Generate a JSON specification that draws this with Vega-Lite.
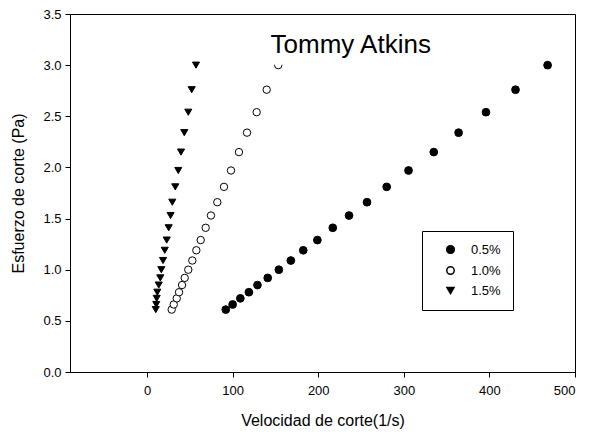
{
  "$schema": "https://vega.github.io/schema/vega-lite/v6.json",
  "width": 505,
  "height": 358,
  "autosize": {"type": "none"},
  "padding": {"left": 70, "top": 14, "right": 29, "bottom": 64},
  "background": "white",
  "config": {
    "font": "Liberation Sans",
    "view": {"stroke": "black", "strokeWidth": 1},
    "axis": {
      "domainColor": "black",
      "tickColor": "black",
      "tickSize": 5,
      "grid": false,
      "labelColor": "black",
      "titleColor": "black",
      "labelFontSize": 13,
      "titleFontSize": 16,
      "labelFont": "Liberation Sans",
      "titleFont": "Liberation Sans",
      "titleFontWeight": "normal"
    },
    "legend": {
      "title": null,
      "orient": "none",
      "legendX": 352,
      "legendY": 217,
      "padding": 12,
      "symbolOffset": 10,
      "strokeColor": "black",
      "fillColor": "white",
      "labelFontSize": 13,
      "labelFont": "Liberation Sans",
      "labelColor": "black",
      "rowPadding": 6,
      "labelOffset": 14
    }
  },
  "datasets": {
    "corte": [
      {"velocidad": 92, "esfuerzo": 0.61, "conc": "0.5%"},
      {"velocidad": 100, "esfuerzo": 0.66, "conc": "0.5%"},
      {"velocidad": 109, "esfuerzo": 0.72, "conc": "0.5%"},
      {"velocidad": 119, "esfuerzo": 0.78, "conc": "0.5%"},
      {"velocidad": 129, "esfuerzo": 0.85, "conc": "0.5%"},
      {"velocidad": 141, "esfuerzo": 0.92, "conc": "0.5%"},
      {"velocidad": 154, "esfuerzo": 1.0, "conc": "0.5%"},
      {"velocidad": 168, "esfuerzo": 1.09, "conc": "0.5%"},
      {"velocidad": 182.5, "esfuerzo": 1.19, "conc": "0.5%"},
      {"velocidad": 199, "esfuerzo": 1.29, "conc": "0.5%"},
      {"velocidad": 217, "esfuerzo": 1.41, "conc": "0.5%"},
      {"velocidad": 236, "esfuerzo": 1.53, "conc": "0.5%"},
      {"velocidad": 257, "esfuerzo": 1.66, "conc": "0.5%"},
      {"velocidad": 280, "esfuerzo": 1.81, "conc": "0.5%"},
      {"velocidad": 305.5, "esfuerzo": 1.97, "conc": "0.5%"},
      {"velocidad": 335, "esfuerzo": 2.15, "conc": "0.5%"},
      {"velocidad": 364, "esfuerzo": 2.34, "conc": "0.5%"},
      {"velocidad": 396, "esfuerzo": 2.54, "conc": "0.5%"},
      {"velocidad": 430.5, "esfuerzo": 2.76, "conc": "0.5%"},
      {"velocidad": 468, "esfuerzo": 3.0, "conc": "0.5%"},
      {"velocidad": 28.8, "esfuerzo": 0.61, "conc": "1.0%"},
      {"velocidad": 31.2, "esfuerzo": 0.66, "conc": "1.0%"},
      {"velocidad": 34.7, "esfuerzo": 0.72, "conc": "1.0%"},
      {"velocidad": 37.4, "esfuerzo": 0.78, "conc": "1.0%"},
      {"velocidad": 40.9, "esfuerzo": 0.85, "conc": "1.0%"},
      {"velocidad": 44.0, "esfuerzo": 0.92, "conc": "1.0%"},
      {"velocidad": 48.2, "esfuerzo": 1.0, "conc": "1.0%"},
      {"velocidad": 52.9, "esfuerzo": 1.09, "conc": "1.0%"},
      {"velocidad": 57.6, "esfuerzo": 1.19, "conc": "1.0%"},
      {"velocidad": 62.7, "esfuerzo": 1.29, "conc": "1.0%"},
      {"velocidad": 68.5, "esfuerzo": 1.41, "conc": "1.0%"},
      {"velocidad": 74.7, "esfuerzo": 1.53, "conc": "1.0%"},
      {"velocidad": 82.1, "esfuerzo": 1.66, "conc": "1.0%"},
      {"velocidad": 89.9, "esfuerzo": 1.81, "conc": "1.0%"},
      {"velocidad": 98.1, "esfuerzo": 1.97, "conc": "1.0%"},
      {"velocidad": 107.4, "esfuerzo": 2.15, "conc": "1.0%"},
      {"velocidad": 116.8, "esfuerzo": 2.34, "conc": "1.0%"},
      {"velocidad": 128.1, "esfuerzo": 2.54, "conc": "1.0%"},
      {"velocidad": 139.8, "esfuerzo": 2.76, "conc": "1.0%"},
      {"velocidad": 153.3, "esfuerzo": 3.0, "conc": "1.0%"},
      {"velocidad": 10.2, "esfuerzo": 0.61, "conc": "1.5%"},
      {"velocidad": 10.8, "esfuerzo": 0.66, "conc": "1.5%"},
      {"velocidad": 11.3, "esfuerzo": 0.72, "conc": "1.5%"},
      {"velocidad": 12.0, "esfuerzo": 0.78, "conc": "1.5%"},
      {"velocidad": 13.7, "esfuerzo": 0.85, "conc": "1.5%"},
      {"velocidad": 15.5, "esfuerzo": 0.92, "conc": "1.5%"},
      {"velocidad": 16.7, "esfuerzo": 1.0, "conc": "1.5%"},
      {"velocidad": 18.7, "esfuerzo": 1.09, "conc": "1.5%"},
      {"velocidad": 20.7, "esfuerzo": 1.19, "conc": "1.5%"},
      {"velocidad": 23.0, "esfuerzo": 1.29, "conc": "1.5%"},
      {"velocidad": 25.3, "esfuerzo": 1.41, "conc": "1.5%"},
      {"velocidad": 27.5, "esfuerzo": 1.53, "conc": "1.5%"},
      {"velocidad": 29.5, "esfuerzo": 1.66, "conc": "1.5%"},
      {"velocidad": 33.0, "esfuerzo": 1.81, "conc": "1.5%"},
      {"velocidad": 36.5, "esfuerzo": 1.97, "conc": "1.5%"},
      {"velocidad": 39.7, "esfuerzo": 2.15, "conc": "1.5%"},
      {"velocidad": 43.5, "esfuerzo": 2.34, "conc": "1.5%"},
      {"velocidad": 48.2, "esfuerzo": 2.54, "conc": "1.5%"},
      {"velocidad": 52.2, "esfuerzo": 2.76, "conc": "1.5%"},
      {"velocidad": 57.2, "esfuerzo": 3.0, "conc": "1.5%"}
    ],
    "titulo": [{"texto": "Tommy Atkins"}]
  },
  "layer": [
    {
      "data": {"name": "corte"},
      "mark": {"type": "point", "stroke": "black", "strokeWidth": 1, "opacity": 1},
      "encoding": {
        "x": {
          "field": "velocidad",
          "type": "quantitative",
          "scale": {"domain": [-90, 500], "nice": false, "zero": false},
          "axis": {
            "title": "Velocidad de corte(1/s)",
            "values": [0, 100, 200, 300, 400, 500],
            "format": "d",
            "labelPadding": 7,
            "titlePadding": 15
          }
        },
        "y": {
          "field": "esfuerzo",
          "type": "quantitative",
          "scale": {"domain": [0, 3.5], "nice": false},
          "axis": {
            "title": "Esfuerzo de corte (Pa)",
            "values": [0, 0.5, 1, 1.5, 2, 2.5, 3, 3.5],
            "format": ".1f",
            "labelPadding": 4,
            "titlePadding": 16
          }
        },
        "fill": {
          "field": "conc",
          "type": "nominal",
          "scale": {"domain": ["0.5%", "1.0%", "1.5%"], "range": ["black", "white", "black"]},
          "legend": {
            "encode": {
              "symbols": {
                "update": {
                  "stroke": {"value": "black"},
                  "strokeWidth": {"value": 1}
                }
              }
            }
          }
        },
        "shape": {
          "field": "conc",
          "type": "nominal",
          "scale": {"domain": ["0.5%", "1.0%", "1.5%"], "range": ["circle", "circle", "triangle-down"]}
        },
        "size": {
          "field": "conc",
          "type": "nominal",
          "scale": {"domain": ["0.5%", "1.0%", "1.5%"], "range": [60, 50, 84]}
        }
      }
    },
    {
      "data": {"name": "titulo"},
      "mark": {
        "type": "text",
        "font": "Liberation Sans",
        "fontSize": 26,
        "align": "center",
        "baseline": "alphabetic",
        "fill": "white",
        "stroke": "white",
        "strokeWidth": 24,
        "strokeJoin": "round"
      },
      "encoding": {
        "text": {"field": "texto"},
        "x": {"datum": 238, "type": "quantitative"},
        "y": {"datum": 3.12, "type": "quantitative"}
      }
    },
    {
      "data": {"name": "titulo"},
      "mark": {
        "type": "text",
        "font": "Liberation Sans",
        "fontSize": 26,
        "align": "center",
        "baseline": "alphabetic",
        "fill": "black"
      },
      "encoding": {
        "text": {"field": "texto"},
        "x": {"datum": 238, "type": "quantitative"},
        "y": {"datum": 3.12, "type": "quantitative"}
      }
    }
  ]
}
